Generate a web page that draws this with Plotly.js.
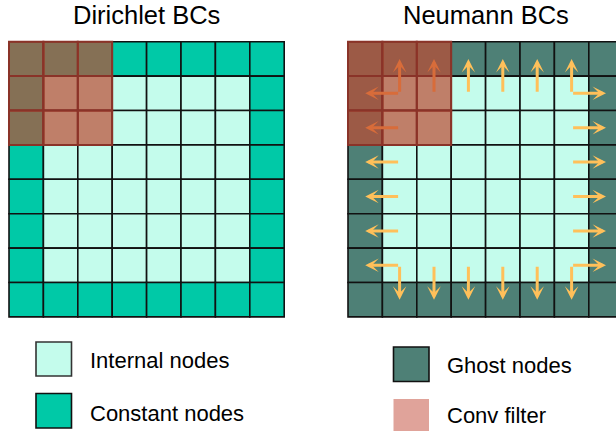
<!DOCTYPE html>
<html><head><meta charset="utf-8">
<script src="https://cdn.plot.ly/plotly-3.0.1.min.js"></script>
<style>html,body{margin:0;padding:0;background:#fff}#chart{width:616px;height:431px}</style>
</head><body><div id="chart"></div>
<script>
// ---- data ----
const titles = ["Dirichlet BCs", "Neumann BCs"];
const dirichletCells = [
  "CCCCCCCC",
  "CIIIIIIC",
  "CIIIIIIC",
  "CIIIIIIC",
  "CIIIIIIC",
  "CIIIIIIC",
  "CIIIIIIC",
  "CCCCCCCC"
];
const neumannCells = [
  "GGGGGGGG",
  "GIIIIIIG",
  "GIIIIIIG",
  "GIIIIIIG",
  "GIIIIIIG",
  "GIIIIIIG",
  "GIIIIIIG",
  "GGGGGGGG"
];
const filterRows = [0, 1, 2];
const filterCols = [0, 1, 2];
// [fromRow, fromCol, toRow, toCol]
const neumannArrows = [
  [1,1,0,1],[1,2,0,2],[1,3,0,3],[1,4,0,4],[1,5,0,5],[1,6,0,6],
  [6,1,7,1],[6,2,7,2],[6,3,7,3],[6,4,7,4],[6,5,7,5],[6,6,7,6],
  [1,1,1,0],[2,1,2,0],[3,1,3,0],[4,1,4,0],[5,1,5,0],[6,1,6,0],
  [1,6,1,7],[2,6,2,7],[3,6,3,7],[4,6,4,7],[5,6,5,7],[6,6,6,7]
];
const legendLabels = ["Internal nodes", "Constant nodes", "Ghost nodes", "Conv filter"];
const legendKeys = ["I", "C", "G", "F"];

// ---- styles ----
const W = 616, H = 431;
const cellColors = {I: "#c4fcec", C: "#00c9a7", G: "#4e8076", F: "#e0a39a"};
const filterFill = "rgba(190,74,50,0.7)";
const filterLine = "#8a3328";
const arrowColor = "#ffc05a";
const arrowColorFiltered = "rgb(216,108,58)";
const FONT = "Liberation Sans, Arial, sans-serif";

const s = 34.4, leftX0 = 9, rightX0 = 348, topY0 = 41.7, N = 8;
const px = v => v / W, py = v => 1 - v / H;

const traces = [], shapes = [], annotations = [];

function grid(cells, xref) {
  const xs = [], ys = [];
  cells.forEach((row, r) => row.split("").forEach((k, c) => {
    xs.push(c + 0.5); ys.push(r + 0.5);
    shapes.push({type: "rect", xref, yref: "y", x0: c, x1: c + 1, y0: r, y1: r + 1,
      fillcolor: cellColors[k], line: {color: "#111", width: 1.6}});
  }));
  traces.push({type: "scatter", mode: "markers", x: xs, y: ys, xaxis: xref, yaxis: "y",
    marker: {opacity: 0}, hoverinfo: "skip", showlegend: false});
  filterRows.forEach(r => filterCols.forEach(c => {
    shapes.push({type: "rect", xref, yref: "y", x0: c, x1: c + 1, y0: r, y1: r + 1,
      fillcolor: filterFill, line: {color: filterLine, width: 2}});
  }));
}
grid(dirichletCells, "x");
grid(neumannCells, "x2");

const inFilter = (r, c) => filterRows.includes(r) && filterCols.includes(c);
neumannArrows.forEach(([r0, c0, r1, c1]) => {
  annotations.push({xref: "x2", yref: "y", axref: "x2", ayref: "y",
    x: c1 + 0.5, y: r1 + 0.5, ax: c0 + 0.5, ay: r0 + 0.5, text: "",
    showarrow: true, arrowhead: 3, arrowsize: 0.75, arrowwidth: 3,
    arrowcolor: (inFilter(r0, c0) && inFilter(r1, c1)) ? arrowColorFiltered : arrowColor});
});

// titles
[[146.7, titles[0]], [485.8, titles[1]]].forEach(([x, t]) => {
  annotations.push({xref: "paper", yref: "paper", x: px(x), y: 1, xanchor: "center", yanchor: "top",
    borderpad: 0, text: t, showarrow: false, font: {family: FONT, size: 25.5, color: "#000"}});
});

// legend
const legendPos = [
  {sx: 36, sy: 342, th: 34, tx: 88, ty: 360},
  {sx: 36, sy: 393.5, th: 34.5, tx: 88, ty: 413},
  {sx: 393.5, sy: 347, th: 34.5, tx: 445, ty: 365},
  {sx: 393.5, sy: 399, th: 33, tx: 445, ty: 415}
];
legendLabels.forEach((lab, i) => {
  const p = legendPos[i], k = legendKeys[i];
  shapes.push({type: "rect", xref: "paper", yref: "paper",
    x0: px(p.sx), x1: px(p.sx + 35.5), y0: py(p.sy), y1: py(p.sy + p.th),
    fillcolor: cellColors[k], line: k === "F" ? {width: 0} : {color: k === "I" ? "#333" : "#111", width: 1.6}});
  annotations.push({xref: "paper", yref: "paper", x: px(p.tx), y: py(p.ty), xanchor: "left", yanchor: "middle",
    text: lab, showarrow: false, font: {family: FONT, size: 22, color: "#000"}});
});

const layout = {
  width: W, height: H, margin: {l: 0, r: 0, t: 0, b: 0},
  paper_bgcolor: "#fff", plot_bgcolor: "rgba(0,0,0,0)", showlegend: false,
  xaxis: {range: [-0.1, 8.1], domain: [px(leftX0 - 0.1 * s), px(leftX0 + 8.1 * s)], visible: false, fixedrange: true, anchor: "y"},
  xaxis2: {range: [-0.1, (W - rightX0) / s], domain: [px(rightX0 - 0.1 * s), 1], visible: false, fixedrange: true, anchor: "y"},
  yaxis: {range: [8.1, -0.1], domain: [py(topY0 + 8.1 * s), py(topY0 - 0.1 * s)], visible: false, fixedrange: true},
  shapes, annotations
};
Plotly.newPlot("chart", traces, layout, {staticPlot: true, displayModeBar: false});
</script>
</body></html>
